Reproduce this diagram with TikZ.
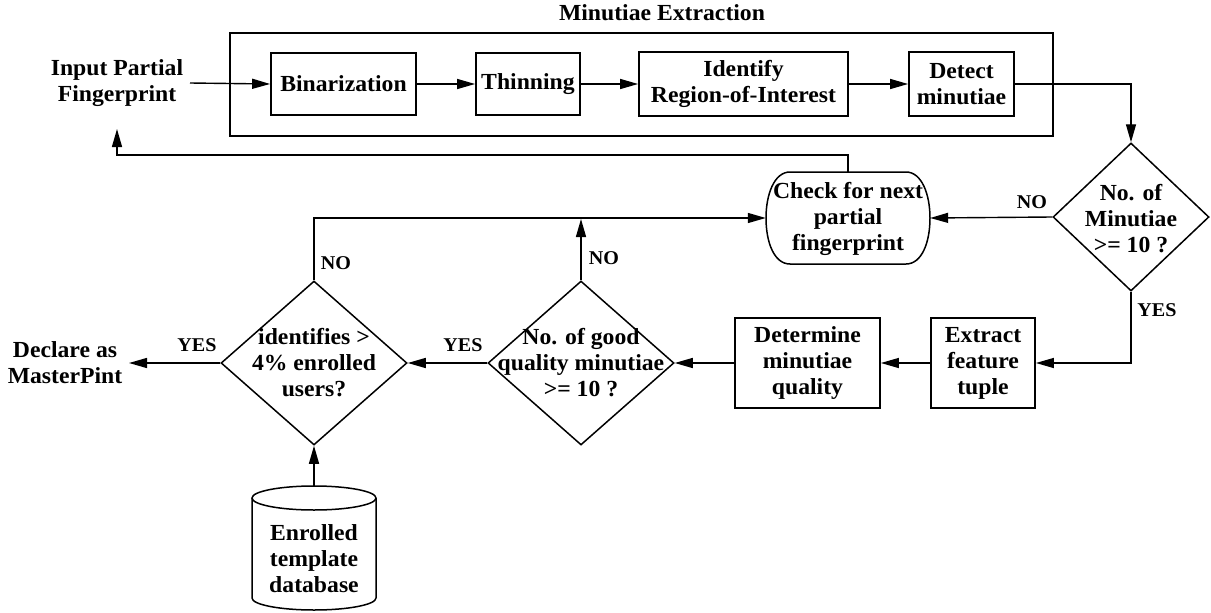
\documentclass[tikz,border=0pt]{standalone}
\usepackage{fontspec}
\setmainfont{Liberation Serif}[FakeStretch=1.03]
\usetikzlibrary{shapes.geometric,arrows.meta}
\begin{document}
\begin{tikzpicture}[x=1pt,y=-1pt,
  every node/.style={font=\fontsize{23}{26}\selectfont\bfseries, align=center, inner sep=2pt},
  box/.style={draw, line width=1.8pt, inner sep=0pt},
  dia/.style={draw, diamond, line width=1.5pt, inner sep=0pt},
  conn/.style={line width=1.4pt},
  arr/.style={conn, -{Triangle[length=18pt,width=10pt]}},
  lbl/.style={font=\fontsize{19.5}{22}\selectfont\bfseries}]
\useasboundingbox (0,0) rectangle (1211,613);

% title and outer frame
\node (title) at (662,13) {Minutiae Extraction};
\node[draw, line width=1.5pt, minimum width=823pt, minimum height=103pt, inner sep=0pt] (outer) at (641.5,84.5) {};

% top row
\node (input) at (117,83) {Input Partial\\Fingerprint};
\node[box, minimum width=145pt, minimum height=62pt] (bin) at (343.5,84) {Binarization};
\node[box, minimum width=104pt, minimum height=62pt] (thin) at (528,84) {Thinning};
\node[box, minimum width=209pt, minimum height=64pt] (roi) at (743.5,84) {Identify\\Region-of-Interest};
\node[box, minimum width=105pt, minimum height=64pt] (det) at (961.5,84) {Detect\\minutiae};

% decision: number of minutiae
\node[dia, minimum width=156pt, minimum height=148pt] (dm) at (1131,217) {};
\node (dmt) at (1131,219) {No. of\\Minutiae\\>= 10 ?};

% check node (rounded terminal)
\node[minimum width=164pt, minimum height=92pt, inner sep=0pt] (check) at (848,218) {};
\draw[line width=1.5pt] (790,172) -- (906,172)
  .. controls (922,172) and (930,195) .. (930,218)
  .. controls (930,242) and (922,264) .. (906,264) -- (790,264)
  .. controls (774,264) and (766,242) .. (766,218)
  .. controls (766,195) and (774,172) .. (790,172) -- cycle;
\node (checkt) at (848,219) {Check for next\\partial\\fingerprint};

% bottom row
\node[box, minimum width=104pt, minimum height=90pt] (ext) at (983,363) {Extract\\feature\\tuple};
\node[box, minimum width=145pt, minimum height=90pt] (detq) at (807.5,363) {Determine\\minutiae\\quality};
\node[dia, minimum width=186pt, minimum height=164pt] (good) at (581,363) {};
\node (goodt) at (581,363) {No. of good\\quality minutiae\\>= 10 ?};
\node[dia, minimum width=186pt, minimum height=164pt] (id) at (314,363) {};
\node (idt) at (314,363) {identifies >\\4\% enrolled\\users?};
\node (declare) at (65,363) {Declare as\\MasterPint};

% database cylinder
\draw[line width=1.5pt] (252,498) -- (252,598) arc[start angle=180, end angle=0, x radius=62, y radius=12] -- (376,498);
\draw[line width=1.5pt] (314,498) ellipse[x radius=62, y radius=12];
\coordinate (dbtop) at (314,486);
\node (db) at (314,559) {Enrolled\\template\\database};

% coordinates for free ends
\coordinate (fbtip) at (117,129);
\coordinate (fbc) at (117,155);
\coordinate (join) at (581,219);
\coordinate (decl) at (129,363);

% connectors
\draw[arr] (190,83) -- (bin.west);
\draw[arr] (bin.east) -- (thin.west);
\draw[arr] (thin.east) -- (roi.west);
\draw[arr] (roi.east) -- (det.west);
\draw[arr] (det.east) -| (dm.north);
\draw[arr] (dm.west) -- (check.east);
\draw[arr] (dm.south) |- (ext.east);
\draw[arr] (ext.west) -- (detq.east);
\draw[arr] (detq.west) -- (good.east);
\draw[arr] (good.west) -- (id.east);
\draw[arr] (id.west) -- (decl);
\draw[arr] (good.north) -- (join);
\draw[arr] (id.north) |- (check.west);
\draw[arr] (check.north) |- (fbc) -- (fbtip);
\draw[arr] (dbtop) -- (id.south);

% labels
\node[lbl] (l1) at (1032,202) {NO};
\node[lbl] (l2) at (1157,310) {YES};
\node[lbl] (l3) at (604,258) {NO};
\node[lbl] (l4) at (336,263) {NO};
\node[lbl] (l5) at (463,345) {YES};
\node[lbl] (l6) at (197,345) {YES};
\end{tikzpicture}
\end{document}
